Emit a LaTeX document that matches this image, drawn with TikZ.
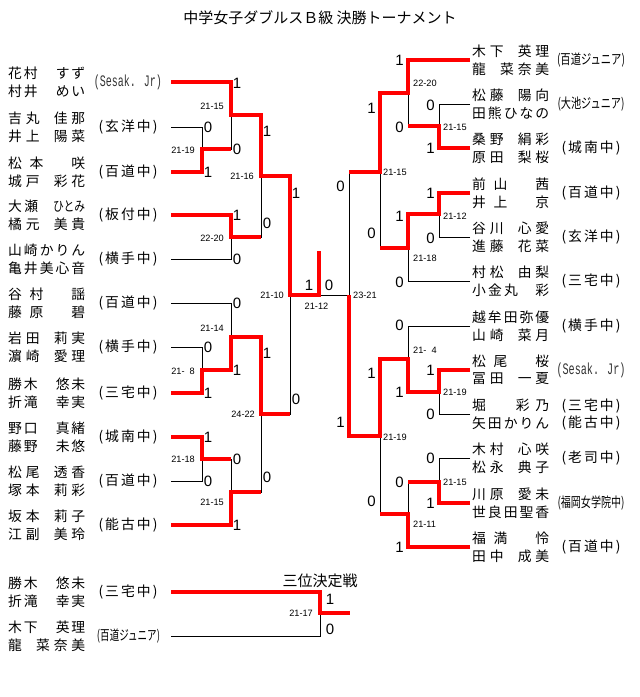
\documentclass[tikz,border=0pt]{standalone}
\usepackage{fontspec}
\usepackage{graphicx}
\newfontfamily\jp{Noto Sans CJK JP}
\newfontfamily\lsans{Liberation Sans}
\newfontfamily\lmono{Liberation Mono}
\def\distrA#1{#1\distrB}
\def\distrB#1{\ifx\relax#1\else\hfill#1\expandafter\distrB\fi}
\newcommand\dn[1]{\makebox[77pt][s]{\distrA#1\relax}}
\newcommand\dw[2]{\makebox[#1][s]{\distrA#2\relax}}
\newcommand\fsp{\hbox to 13pt{}}
\newcommand\hsp{\hbox to 6.5pt{}}
\newcommand\scl[1]{\dw{59pt}{(#1)}}
\newcommand\jun[2]{\resizebox{#1}{\height}{(#2)}}
\newcommand\ses[1]{{\color{black!80}\resizebox{#1}{\height}{\lmono\fontsize{16}{18}\selectfont (Sesak. Jr)}}}
\newcommand\teamL[5]{\coordinate (#1) at (171,#2);
  \node[nm] (#1a) at (8,{#2-8.5}) {#3};
  \node[nm] (#1b) at (8,{#2+9}) {#4};
  \node[nm,anchor=center] (#1c) at (128,#2) {#5};}
\newcommand\teamR[5]{\coordinate (#1) at (470,#2);
  \node[nm] (#1a) at (472,{#2-8.5}) {#3};
  \node[nm] (#1b) at (472,{#2+9}) {#4};
  \node[nm,anchor=center] (#1c) at (591,#2) {#5};}
\begin{document}
\begin{tikzpicture}[x=1pt,y=-1pt,
  nm/.style={font=\jp\fontsize{13.8}{15}\selectfont,inner sep=0pt,anchor=west},
  ttl/.style={font=\jp\fontsize{15}{17}\selectfont,inner sep=0pt},
  dg/.style={font=\lsans\fontsize{15}{17}\selectfont,inner sep=0pt},
  scr/.style={font=\lsans\fontsize{9.2}{10}\selectfont,inner sep=0pt},
  bk/.style={draw=black,line width=1pt},
  rd/.style={draw=red,line width=3.6pt,line join=miter}]
\fill[white] (0,0) rectangle (640,697);
\useasboundingbox (0,0) rectangle (640,697);

\node[ttl] (title) at (320,18) {中学女子ダブルスＢ級 決勝トーナメント};
\node[ttl] (third) at (320,581) {三位決定戦};

% ---------- left teams
\teamL{s1}{82}{\dn{花村\hsp\hsp すず}}{\dn{村井\hsp\hsp めい}}{\ses{68pt}}
\teamL{s2}{127}{\dn{吉丸\hsp 佳那}}{\dn{井上\hsp 陽菜}}{\scl{玄洋中}}
\teamL{s3}{172}{\dn{松本\fsp 咲}}{\dn{城戸\hsp 彩花}}{\scl{百道中}}
\teamL{s4}{215}{\makebox[77pt][s]{大\hfill 瀬\hspace{15pt}\resizebox{32pt}{\height}{ひとみ}}}{\dn{橘元\hsp 美貴}}{\scl{板付中}}
\teamL{s5}{259}{\dn{山崎かりん}}{\dn{亀井美心音}}{\scl{横手中}}
\teamL{s6}{303}{\dn{谷村\fsp 謡}}{\dn{藤原\fsp 碧}}{\scl{百道中}}
\teamL{s7}{347}{\dn{岩田\hsp 莉実}}{\dn{濵崎\hsp 愛理}}{\scl{横手中}}
\teamL{s8}{393}{\dn{勝木\hsp\hsp 悠未}}{\dn{折滝\hsp\hsp 幸実}}{\scl{三宅中}}
\teamL{s9}{437}{\dn{野口\hsp\hsp 真緒}}{\dn{藤野\hsp\hsp 未悠}}{\scl{城南中}}
\teamL{s10}{481}{\dn{松尾\hsp 透香}}{\dn{塚本\hsp 莉彩}}{\scl{百道中}}
\teamL{s11}{525}{\dn{坂本\hsp 莉子}}{\dn{江副\hsp 美玲}}{\scl{能古中}}

% ---------- right teams
\teamR{r1}{60}{\dn{木下\hsp 英理}}{\dn{龍\hsp 菜奈美}}{\jun{68pt}{百道ジュニア}}
\teamR{r2}{104}{\dn{松藤\hsp 陽向}}{\dn{田熊ひなの}}{\jun{67pt}{大池ジュニア}}
\teamR{r3}{148}{\dn{桑野\hsp 絹彩}}{\dn{原田\hsp 梨桜}}{\scl{城南中}}
\teamR{r4}{193}{\dn{前山\fsp 茜}}{\dn{井上\fsp 京}}{\scl{百道中}}
\teamR{r5}{237}{\dn{谷川\hsp 心愛}}{\dn{進藤\hsp 花菜}}{\scl{玄洋中}}
\teamR{r6}{281}{\dn{村松\hsp 由梨}}{\dn{小金丸\fsp 彩}}{\scl{三宅中}}
\teamR{r7}{326}{\dn{越牟田弥優}}{\dn{山崎\hsp 菜月}}{\scl{横手中}}
\teamR{r8}{370}{\dn{松尾\fsp 桜}}{\dn{冨田\hsp 一夏}}{\ses{69pt}}
\coordinate (r9) at (470,414);
\node[nm] (r9a) at (472,405.5) {\dn{堀\hsp\hsp 彩乃}};
\node[nm] (r9b) at (472,423) {\dn{矢田かりん}};
\node[nm,anchor=center] (r9c) at (591,406) {\scl{三宅中}};
\node[nm,anchor=center] (r9d) at (591,423) {\scl{能古中}};
\teamR{r10}{458}{\dn{木村\hsp 心咲}}{\dn{松永\hsp 典子}}{\scl{老司中}}
\teamR{r11}{503}{\dn{川原\hsp 愛未}}{\dn{世良田聖香}}{\jun{67pt}{福岡女学院中}}
\teamR{r12}{547}{\dn{福満\fsp 怜}}{\dn{田中\hsp 成美}}{\scl{百道中}}

% ---------- third place teams
\coordinate (u1) at (171,592);
\node[nm] (u1a) at (8,583.5) {\dn{勝木\hsp\hsp 悠未}};
\node[nm] (u1b) at (8,601) {\dn{折滝\hsp\hsp 幸実}};
\node[nm,anchor=center] (u1c) at (128,592) {\scl{三宅中}};
\coordinate (u2) at (171,636);
\node[nm] (u2a) at (8,627.5) {\dn{木下\hsp\hsp 英理}};
\node[nm] (u2b) at (8,645) {\dn{龍\hsp 菜奈美}};
\node[nm,anchor=center] (u2c) at (128.5,636) {\jun{63pt}{百道ジュニア}};

% ---------- match junctions
\coordinate (mA) at (202,149);
\coordinate (mB) at (202,370);
\coordinate (mC) at (202,459);
\coordinate (mD) at (231,115);
\coordinate (mE) at (231,237);
\coordinate (mF) at (231,337);
\coordinate (mG) at (231,492);
\coordinate (mH) at (261,176);
\coordinate (mI) at (261,414);
\coordinate (mJ) at (290,295);
\coordinate (fin) at (319,295);
\coordinate (champ) at (319,251);
\coordinate (mK) at (349,295);
\coordinate (mL) at (380,172);
\coordinate (mO) at (380,436);
\coordinate (mM) at (408,93);
\coordinate (mN) at (408,248);
\coordinate (mPp) at (408,359);
\coordinate (mQp) at (408,514);
\coordinate (mP) at (439,126);
\coordinate (mQ) at (439,214);
\coordinate (mS) at (439,392);
\coordinate (mT) at (439,482);
\coordinate (m3) at (320,613);
\coordinate (u3) at (350,613);

% ---------- black tree
\draw[bk] (s1) -| (mD);  \draw[bk] (s2) -| (mA);  \draw[bk] (s3) -| (mA);
\draw[bk] (s4) -| (mE);  \draw[bk] (s5) -| (mE);  \draw[bk] (s6) -| (mF);
\draw[bk] (s7) -| (mB);  \draw[bk] (s8) -| (mB);  \draw[bk] (s9) -| (mC);
\draw[bk] (s10) -| (mC); \draw[bk] (s11) -| (mG);
\draw[bk] (mA) -| (mD);  \draw[bk] (mB) -| (mF);  \draw[bk] (mC) -| (mG);
\draw[bk] (mD) -| (mH);  \draw[bk] (mE) -| (mH);  \draw[bk] (mF) -| (mI);
\draw[bk] (mG) -| (mI);  \draw[bk] (mH) -| (mJ);  \draw[bk] (mI) -| (mJ);
\draw[bk] (mJ) -- (fin);
\draw[bk] (r1) -| (mM);  \draw[bk] (r2) -| (mP);  \draw[bk] (r3) -| (mP);
\draw[bk] (r4) -| (mQ);  \draw[bk] (r5) -| (mQ);  \draw[bk] (r6) -| (mN);
\draw[bk] (r7) -| (mPp); \draw[bk] (r8) -| (mS);  \draw[bk] (r9) -| (mS);
\draw[bk] (r10) -| (mT); \draw[bk] (r11) -| (mT); \draw[bk] (r12) -| (mQp);
\draw[bk] (mP) -| (mM);  \draw[bk] (mQ) -| (mN);  \draw[bk] (mS) -| (mPp);
\draw[bk] (mT) -| (mQp); \draw[bk] (mM) -| (mL);  \draw[bk] (mN) -| (mL);
\draw[bk] (mPp) -| (mO); \draw[bk] (mQp) -| (mO); \draw[bk] (mL) -| (mK);
\draw[bk] (mO) -| (mK);  \draw[bk] (mK) -- (fin);
\draw[bk] (u1) -| (m3);  \draw[bk] (u2) -| (m3);

% ---------- red winner paths
\draw[rd] (s1) -| (mD) -| (mH) -| (mJ) -- (fin) -- (champ);
\draw[rd] (s3) -| (mA) -- (mA -| mD);
\draw[rd] (s4) -| (mE) -- (mE -| mH);
\draw[rd] (s8) -| (mB) -| (mF) -| (mI) -- (mI -| mJ);
\draw[rd] (s9) -| (mC) -- (mC -| mG);
\draw[rd] (s11) -| (mG) -- (mG -| mI);
\draw[rd] (r1) -| (mM) -| (mL) -- (mL -| mK);
\draw[rd] (r3) -| (mP) -- (mP -| mM);
\draw[rd] (r4) -| (mQ) -| (mN) -- (mN -| mL);
\draw[rd] (r8) -| (mS) -| (mPp) -| (mO) -| (mK);
\draw[rd] (r11) -| (mT) -- (mT -| mQp);
\draw[rd] (r12) -| (mQp) -- (mQp -| mO);
\draw[rd] (u1) -| (m3) -- (u3);

% ---------- game counts, left
\node[dg] (dA1) at (208,127) {0}; \node[dg] (dA2) at (208,172) {1};
\node[dg] (dB1) at (208,347) {0}; \node[dg] (dB2) at (208,393) {1};
\node[dg] (dC1) at (208,437) {1}; \node[dg] (dC2) at (208,481) {0};
\node[dg] (dD1) at (237,83) {1};  \node[dg] (dD2) at (237,149) {0};
\node[dg] (dE1) at (237,215) {1}; \node[dg] (dE2) at (237,259) {0};
\node[dg] (dF1) at (237,303) {0}; \node[dg] (dF2) at (237,370) {1};
\node[dg] (dG1) at (237,459) {0}; \node[dg] (dG2) at (237,525) {1};
\node[dg] (dH1) at (267,131) {1}; \node[dg] (dH2) at (267,223) {0};
\node[dg] (dI1) at (267,353) {1}; \node[dg] (dI2) at (267,477) {0};
\node[dg] (dJ1) at (296,193) {1}; \node[dg] (dJ2) at (296,399) {0};
\node[dg] (dF01) at (309,285) {1}; \node[dg] (dF02) at (329,285) {0};
% ---------- game counts, right
\node[dg] (dP1) at (430.5,105) {0}; \node[dg] (dP2) at (430.5,148) {1};
\node[dg] (dQ1) at (430.5,193) {1}; \node[dg] (dQ2) at (430.5,238) {0};
\node[dg] (dS1) at (430.5,370) {1}; \node[dg] (dS2) at (430.5,414) {0};
\node[dg] (dT1) at (430.5,458) {0}; \node[dg] (dT2) at (430.5,503) {1};
\node[dg] (dM1) at (399.5,60) {1};  \node[dg] (dM2) at (399.5,127) {0};
\node[dg] (dN1) at (399.5,216) {1}; \node[dg] (dN2) at (399.5,282) {0};
\node[dg] (dPp1) at (399.5,325) {0}; \node[dg] (dPp2) at (399.5,392) {1};
\node[dg] (dQp1) at (399.5,482) {0}; \node[dg] (dQp2) at (399.5,547) {1};
\node[dg] (dL1) at (371.5,108) {1}; \node[dg] (dL2) at (371.5,233) {0};
\node[dg] (dO1) at (371.5,373) {1}; \node[dg] (dO2) at (371.5,501) {0};
\node[dg] (dK1) at (340.5,186) {0}; \node[dg] (dK2) at (340.5,422) {1};
\node[dg] (d31) at (330,599) {1};   \node[dg] (d32) at (330,629) {0};

% ---------- scores
\node[scr,anchor=east] (sA) at (195,150) {21-19};
\node[scr,anchor=east] (sB) at (195,371) {21-\phantom{0}8};
\node[scr,anchor=east] (sC) at (195,459) {21-18};
\node[scr,anchor=east] (sD) at (224,106) {21-15};
\node[scr,anchor=east] (sE) at (224,238) {22-20};
\node[scr,anchor=east] (sF) at (224,328) {21-14};
\node[scr,anchor=east] (sG) at (224,502) {21-15};
\node[scr,anchor=east] (sH) at (254,176) {21-16};
\node[scr,anchor=east] (sI) at (255,414) {24-22};
\node[scr,anchor=east] (sJ) at (284,295) {21-10};
\node[scr] (sFin) at (316.5,306) {21-12};
\node[scr,anchor=west] (sK) at (353,295) {23-21};
\node[scr,anchor=west] (sL) at (383,172) {21-15};
\node[scr,anchor=west] (sO) at (383,437) {21-19};
\node[scr,anchor=west] (sM) at (413,83) {22-20};
\node[scr,anchor=west] (sN) at (413,258) {21-18};
\node[scr,anchor=west] (sPp) at (413,350) {21-\phantom{0}4};
\node[scr,anchor=west] (sQp) at (413,524) {21-11};
\node[scr,anchor=west] (sP) at (443,127) {21-15};
\node[scr,anchor=west] (sQ) at (443,216) {21-12};
\node[scr,anchor=west] (sS) at (443,392) {21-19};
\node[scr,anchor=west] (sT) at (443,482) {21-15};
\node[scr,anchor=east] (s3rd) at (313,613) {21-17};
\end{tikzpicture}
\end{document}
